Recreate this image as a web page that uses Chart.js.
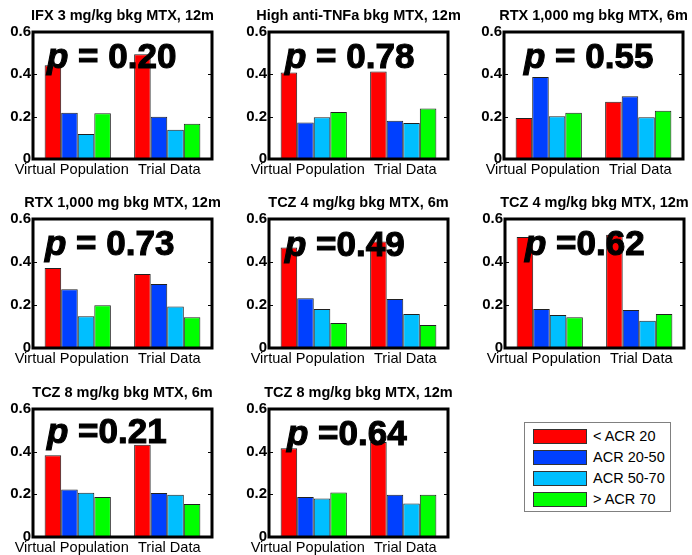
<!DOCTYPE html>
<html><head><meta charset="utf-8">
<script src="https://cdn.jsdelivr.net/npm/chart.js@4/dist/chart.umd.min.js"></script>
<style>
html,body{margin:0;padding:0;background:#fff}
body{width:692px;height:555px;overflow:hidden;position:relative;font-family:"Liberation Sans",Arial,Helvetica,sans-serif}
canvas{position:absolute}
.pv{position:absolute;font-weight:bold;font-size:35px;line-height:35px;white-space:pre;color:#000;z-index:5;-webkit-text-stroke:1.1px #000}
.pv i{font-style:italic}
#legend{position:absolute;left:524px;top:422px;width:147px;height:90px;box-sizing:border-box;border:1px solid #808080;background:#fff}
.sw{position:absolute;left:8px;width:54px;height:15px;box-sizing:border-box;border:1px solid #333}
.lt{position:absolute;left:68px;font-size:14.5px;line-height:15px;color:#000;white-space:pre}
</style></head><body>
<div id="legend"></div>
<script>
// ---------------- data ----------------
const categories = ['Virtual Population', 'Trial Data'];
const panelTitles = [
  'IFX 3 mg/kg bkg MTX, 12m',
  'High anti-TNFa bkg MTX, 12m',
  'RTX 1,000 mg bkg MTX, 6m',
  'RTX 1,000 mg bkg MTX, 12m',
  'TCZ 4 mg/kg bkg MTX, 6m',
  'TCZ 4 mg/kg bkg MTX, 12m',
  'TCZ 8 mg/kg bkg MTX, 6m',
  'TCZ 8 mg/kg bkg MTX, 12m'
];
const pValueText = ['= 0.20', '= 0.78', '= 0.55', '= 0.73', '=0.49', '=0.62', '=0.21', '=0.64'];
const seriesNames = ['< ACR 20', 'ACR 20-50', 'ACR 50-70', '> ACR 70'];
// each entry: [Virtual Population, Trial Data]
const belowACR20 = [[0.443,0.495],[0.409,0.413],[0.194,0.271],[0.372,0.344],[0.468,0.495],[0.516,0.527],[0.383,0.432],[0.416,0.445]];
const acr20to50  = [[0.219,0.200],[0.173,0.181],[0.387,0.296],[0.273,0.298],[0.231,0.228],[0.181,0.177],[0.223,0.206],[0.187,0.198]];
const acr50to70  = [[0.118,0.138],[0.197,0.170],[0.202,0.197],[0.148,0.193],[0.181,0.158],[0.153,0.127],[0.207,0.198],[0.181,0.157]];
const aboveACR70 = [[0.216,0.166],[0.222,0.238],[0.219,0.228],[0.199,0.143],[0.116,0.107],[0.143,0.158],[0.187,0.155],[0.209,0.198]];
const yTickValues = [0, 0.2, 0.4, 0.6];

// ---------------- styles / layout ----------------
const seriesColors = ['#ff0000', '#0040ff', '#00bfff', '#00ff00'];
const seriesData = [belowACR20, acr20to50, acr50to70, aboveACR70];
const panelLeft  = [33, 269, 504, 33, 269, 505, 33, 269];
const panelTop   = [32, 32, 32, 219, 219, 219, 409, 409];
const panelBottom= [159, 159, 159, 348, 348, 348, 537, 537];
const panelWidth = 179;
const pDx = [14, 16, 20, 12, 16, 20, 14, 18];
const pDy = [11, 11, 11, 11, 12, 11, 9, 11];
const AX_W = 33, TITLE_H = 32, XAX_H = 26;
const FONT = '"Liberation Sans", Arial, Helvetica, sans-serif';

const framePlugin = {
  id: 'frame',
  afterDatasetsDraw(chart) {
    const ctx = chart.ctx, a = chart.chartArea, y = chart.scales.y;
    ctx.save();
    ctx.strokeStyle = '#000';
    ctx.lineWidth = 1;
    yTickValues.forEach(v => {
      if (v <= 0 || v >= 0.6) return;
      const py = Math.round(y.getPixelForValue(v)) + 0.5;
      ctx.beginPath();
      ctx.moveTo(a.left, py); ctx.lineTo(a.left + 4, py);
      ctx.moveTo(a.right, py); ctx.lineTo(a.right - 4, py);
      ctx.stroke();
    });
    ctx.lineWidth = 3;
    ctx.strokeRect(a.left, a.top, a.right - a.left, a.bottom - a.top);
    ctx.restore();
  }
};

for (let i = 0; i < panelTitles.length; i++) {
  const plotH = panelBottom[i] - panelTop[i];
  const cv = document.createElement('canvas');
  const W = AX_W + panelWidth + AX_W, H = TITLE_H + plotH + XAX_H;
  cv.width = W; cv.height = H;
  cv.style.width = W + 'px'; cv.style.height = H + 'px';
  cv.style.left = (panelLeft[i] - AX_W) + 'px';
  cv.style.top = (panelTop[i] - TITLE_H) + 'px';
  document.body.appendChild(cv);

  new Chart(cv, {
    type: 'bar',
    data: {
      labels: categories,
      datasets: seriesNames.map((n, s) => ({
        label: n,
        data: seriesData[s][i],
        backgroundColor: seriesColors[s],
        borderColor: '#202020',
        borderWidth: 1,
        borderSkipped: false,
        categoryPercentage: 0.74,
        barPercentage: 1.0,
        yAxisID: 'y'
      }))
    },
    options: {
      responsive: false,
      animation: false,
      devicePixelRatio: 1,
      layout: { padding: 0 },
      plugins: {
        legend: { display: false },
        tooltip: { enabled: false },
        title: {
          display: true,
          text: panelTitles[i],
          fullSize: true,
          color: '#000',
          font: { family: FONT, size: 14.5, weight: 'bold', lineHeight: 1.2 },
          padding: { top: 7.3, bottom: 7.3 }
        }
      },
      scales: {
        x: {
          type: 'category',
          grid: { display: false, drawTicks: false },
          border: { display: false },
          ticks: {
            color: '#000', padding: 2, labelOffset: -2, maxRotation: 0, autoSkip: false,
            font: { family: FONT, size: 14.6 },
            callback: function (v, idx) {
              const lab = this.getLabelForValue(v);
              return idx === 0 ? lab + '\u0020\u0020' : '\u0020\u0020' + lab;
            }
          },
          afterFit(scale) { scale.height = XAX_H; }
        },
        y: {
          position: 'left',
          min: 0, max: 0.6,
          afterBuildTicks(scale) { scale.ticks = yTickValues.map(v => ({ value: v })); },
          grid: { display: false, drawTicks: false },
          border: { display: false },
          ticks: {
            color: '#000', padding: 2,
            font: { family: FONT, size: 15, weight: 'bold' },
            callback: v => (v === 0 ? '0' : Number(v).toFixed(1))
          },
          afterFit(scale) { scale.width = AX_W; }
        },
        yRight: {
          position: 'right',
          min: 0, max: 0.6,
          grid: { display: false, drawTicks: false },
          border: { display: false },
          ticks: { display: false },
          afterFit(scale) { scale.width = AX_W; }
        }
      }
    },
    plugins: [framePlugin]
  });

  const pv = document.createElement('div');
  pv.className = 'pv';
  pv.innerHTML = '<i>p</i> ' + pValueText[i];
  pv.style.left = (panelLeft[i] + pDx[i]) + 'px';
  pv.style.top = (panelTop[i] + pDy[i] - 4.6) + 'px';
  document.body.appendChild(pv);
}

// legend
const lg = document.getElementById('legend');
seriesNames.forEach((n, s) => {
  const top = 5.5 + s * 21.3;
  const sw = document.createElement('div');
  sw.className = 'sw';
  sw.style.top = top + 'px';
  sw.style.background = seriesColors[s];
  lg.appendChild(sw);
  const t = document.createElement('div');
  t.className = 'lt';
  t.style.top = (top) + 'px';
  t.textContent = n;
  lg.appendChild(t);
});
</script>
</body></html>
